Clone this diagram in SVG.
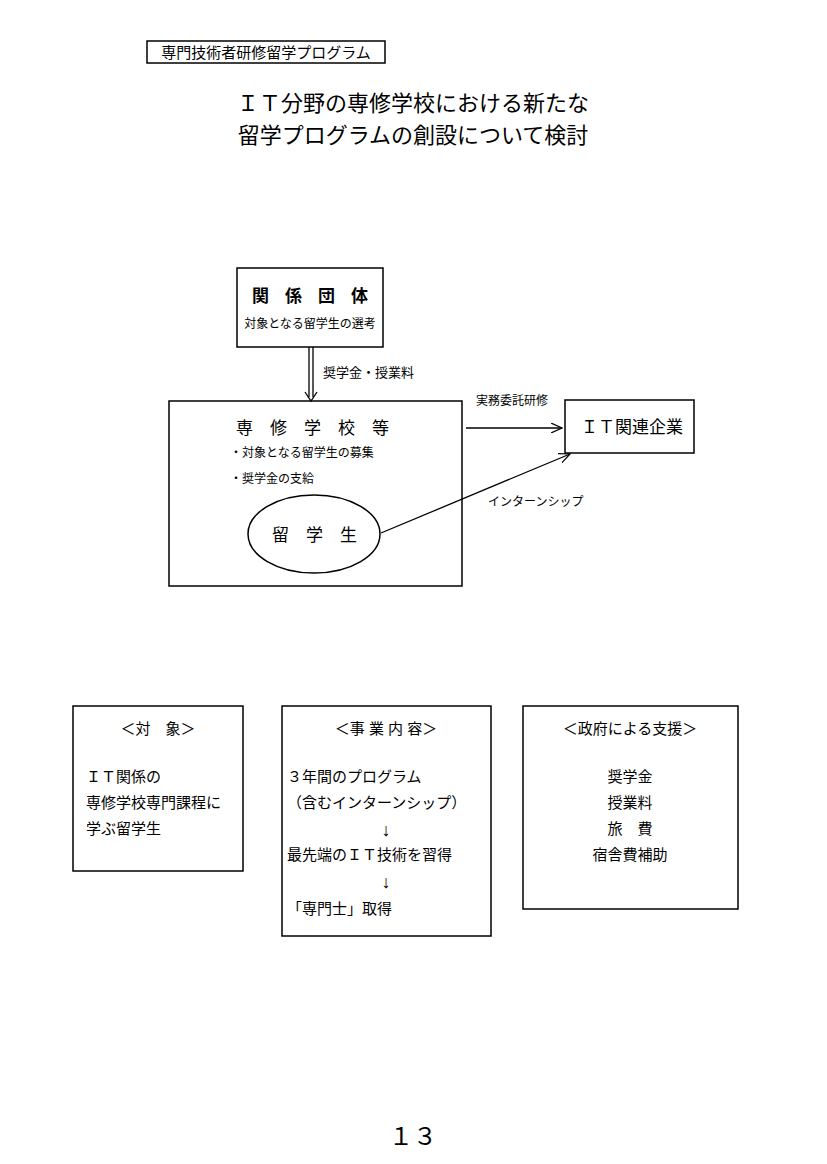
<svg xmlns="http://www.w3.org/2000/svg" width="827" height="1164" viewBox="0 0 827 1164">
<style>
text{font-family:"Liberation Sans","Noto Sans CJK JP",sans-serif;fill:#000}
.b{fill:none;stroke:#000;stroke-width:1.5}
.l{stroke:#000;stroke-width:1.3;fill:none}
</style>
<defs>
<marker id="a" markerWidth="12" markerHeight="10" refX="11" refY="5" orient="auto" markerUnits="userSpaceOnUse"><path d="M0,0 L11,5 L0,10" fill="none" stroke="#000" stroke-width="1.2"/></marker>
</defs>
<rect width="827" height="1164" fill="#fff"/>
<g id="header"><rect x="147" y="41" width="238" height="22" class="b" stroke-width="1"/><text x="266" y="58" font-size="15" text-anchor="middle">専門技術者研修留学プログラム</text></g>
<g id="title" font-size="22" text-anchor="middle"><text x="413" y="111">ＩＴ分野の専修学校における新たな</text><text x="413" y="143">留学プログラムの創設について検討</text></g>
<g id="kankei"><rect x="237" y="268" width="146" height="79" class="b"/><text x="318" y="302" font-size="17" text-anchor="middle" font-weight="bold" letter-spacing="16">関係団体</text><text x="310" y="328" font-size="12" text-anchor="middle">対象となる留学生の選考</text></g>
<g id="senshu"><rect x="169" y="401" width="293" height="185" class="b"/><text x="321" y="434" font-size="17" text-anchor="middle" letter-spacing="17">専修学校等</text><text x="230" y="457" font-size="12">・対象となる留学生の募集</text><text x="230" y="483" font-size="12">・奨学金の支給</text></g>
<g id="ryugakusei"><ellipse cx="314" cy="534" rx="66" ry="39" class="b"/><text x="323" y="541" font-size="17" text-anchor="middle" letter-spacing="17">留学生</text></g>
<g id="it"><rect x="565" y="400" width="129" height="53" class="b"/><text x="632" y="433" font-size="17" text-anchor="middle">ＩＴ関連企業</text></g>
<g id="connectors">
<line x1="309" y1="347" x2="309" y2="397" class="l"/><line x1="313" y1="347" x2="313" y2="397" class="l"/>
<path d="M305,392 L311,401 L317,392" class="l"/>
<text x="323" y="377" font-size="13">奨学金・授業料</text>
<line x1="466" y1="428" x2="562" y2="428" class="l" marker-end="url(#a)"/>
<text x="476" y="405" font-size="12">実務委託研修</text>
<line x1="381" y1="533" x2="570" y2="454" class="l" marker-end="url(#a)"/>
<text x="488" y="506" font-size="12">インターンシップ</text>
</g>
<g id="taisho"><rect x="73" y="706" width="170" height="165" class="b"/><text x="158" y="734" font-size="15" text-anchor="middle">＜対　象＞</text><g font-size="15"><text x="86" y="782">ＩＴ関係の</text><text x="86" y="808">専修学校専門課程に</text><text x="86" y="834">学ぶ留学生</text></g></g>
<g id="jigyo"><rect x="282" y="706" width="209" height="230" class="b"/><text x="386" y="734" font-size="15" text-anchor="middle">＜事 業 内 容＞</text><g font-size="15"><text x="287" y="782">３年間のプログラム</text><text x="287" y="808">（含むインターンシップ）</text><text x="386" y="836" text-anchor="middle" font-size="18">↓</text><text x="287" y="860">最先端のＩＴ技術を習得</text><text x="386" y="888" text-anchor="middle" font-size="18">↓</text><text x="287" y="914">「専門士」取得</text></g></g>
<g id="seifu"><rect x="523" y="706" width="215" height="203" class="b"/><text x="630" y="734" font-size="15" text-anchor="middle">＜政府による支援＞</text><g font-size="15" text-anchor="middle"><text x="630" y="782">奨学金</text><text x="630" y="808">授業料</text><text x="630" y="834">旅　費</text><text x="630" y="860">宿舎費補助</text></g></g>
<text x="413" y="1145" font-size="24" text-anchor="middle">１３</text>
</svg>
